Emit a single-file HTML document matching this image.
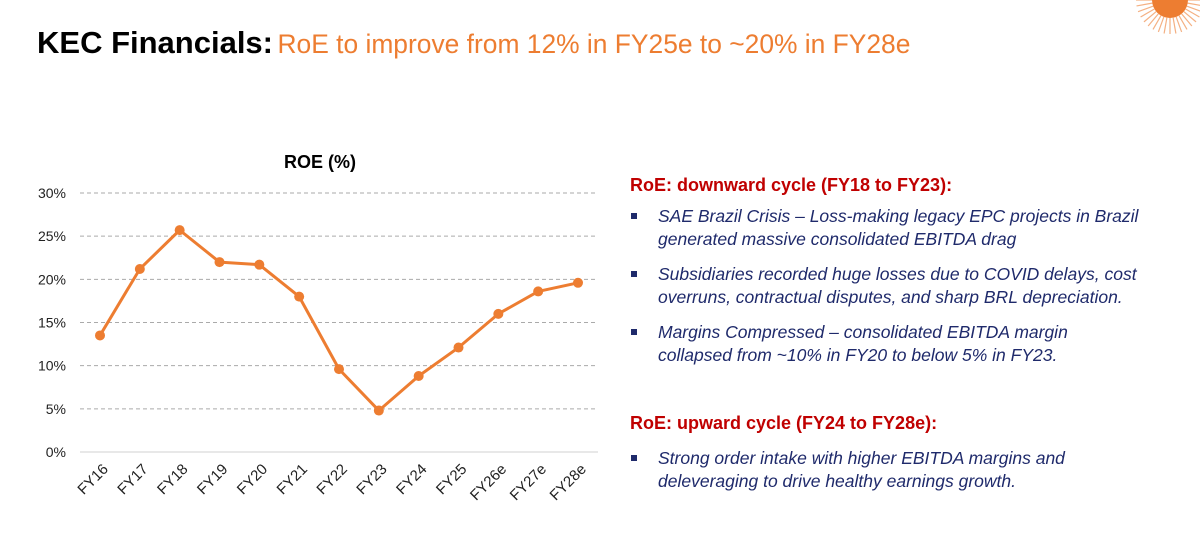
<!DOCTYPE html>
<html><head><meta charset="utf-8"><style>
body{margin:0;width:1200px;height:541px;background:#fff;font-family:"Liberation Sans",sans-serif;position:relative;overflow:hidden}
.title{position:absolute;left:37px;top:25px;white-space:nowrap}
.title b{font-size:31px;color:#000}
.title span{font-size:26.4px;color:#ed7d31}
.h{position:absolute;left:630px;color:#c00000;font-weight:bold;font-size:18px}
ul{position:absolute;left:628px;margin:0;padding:0;list-style:none;width:570px}
li{position:relative;padding-left:30px;color:#1f2a6b;font-style:italic;font-size:17.5px;line-height:23px;margin-bottom:12px;white-space:nowrap}
li:before{content:"";position:absolute;left:3px;top:8px;width:6px;height:6px;background:#1f2a6b}
</style></head><body>
<div class="title"><b>KEC Financials:</b> <span>RoE to improve from 12% in FY25e to ~20% in FY28e</span></div>
<svg style="position:absolute;left:1130px;top:-30px" width="80" height="70">
<g stroke="#ed7d31" stroke-width="1.2" opacity="0.6" id="rays"></g>
<circle cx="40" cy="30" r="18" fill="#ed7d31"/></svg>
<svg id="chart" width="620" height="541" style="position:absolute;left:0;top:0">
<text x="320" y="168" text-anchor="middle" font-weight="bold" font-size="18">ROE (%)</text>
</svg>
<div class="h" style="top:175px">RoE: downward cycle (FY18 to FY23):</div>
<ul style="top:205px">
<li>SAE Brazil Crisis – Loss-making legacy EPC projects in Brazil<br>generated massive consolidated EBITDA drag</li>
<li>Subsidiaries recorded huge losses due to COVID delays, cost<br>overruns, contractual disputes, and sharp BRL depreciation.</li>
<li>Margins Compressed – consolidated EBITDA margin<br>collapsed from ~10% in FY20 to below 5% in FY23.</li>
</ul>
<div class="h" style="top:413px">RoE: upward cycle (FY24 to FY28e):</div>
<ul style="top:447px">
<li>Strong order intake with higher EBITDA margins and<br>deleveraging to drive healthy earnings growth.</li>
</ul>
<script>
const categories=["FY16","FY17","FY18","FY19","FY20","FY21","FY22","FY23","FY24","FY25","FY26e","FY27e","FY28e"];
const roeValues=[13.5,21.2,25.7,22.0,21.7,18.0,9.6,4.8,8.8,12.1,16.0,18.6,19.6];
const yTicks=[0,5,10,15,20,25,30];
const NS="http://www.w3.org/2000/svg";
const svg=document.getElementById('chart');
const x0=100,x1=578,yTop=193,yBot=452;
const x=i=>x0+(x1-x0)*i/(categories.length-1);
const y=v=>yBot-(yBot-yTop)*v/30;
function mk(t,a){const e=document.createElementNS(NS,t);for(const k in a)e.setAttribute(k,a[k]);svg.appendChild(e);return e;}
yTicks.forEach(t=>{
 const l=mk('line',{x1:80,x2:598,y1:y(t),y2:y(t),stroke:t?'#aaa':'#d0d0d0','stroke-width':1,'stroke-dasharray':t?'4,3':''});
 
 
 const tx=mk('text',{x:66,y:y(t)+5,'text-anchor':'end','font-size':14,fill:'#222'});
 tx.textContent=t+'%';
 
 
});
categories.forEach((c,i)=>{
 const tx=mk('text',{x:x(i)+9,y:470,'text-anchor':'end','font-size':15,fill:'#222',transform:`rotate(-45 ${x(i)+9} 470)`});
 tx.textContent=c;
 
 
});
const p=mk('polyline',{points:roeValues.map((v,i)=>x(i)+','+y(v)).join(' '),fill:'none',stroke:'#ed7d31','stroke-width':3,'stroke-linejoin':'round'});


roeValues.forEach((v,i)=>{
 const c=mk('circle',{cx:x(i),cy:y(v),r:5,fill:'#ed7d31'});
 
 
});
const rays=document.getElementById('rays');
for(let a=0;a<360;a+=10){const r=a*Math.PI/180;const l=document.createElementNS(NS,'line');
l.setAttribute('x1',40+18*Math.cos(r));l.setAttribute('y1',30+18*Math.sin(r));l.setAttribute('x2',40+34*Math.cos(r));l.setAttribute('y2',30+34*Math.sin(r));rays.appendChild(l);}
</script>
</body></html>
